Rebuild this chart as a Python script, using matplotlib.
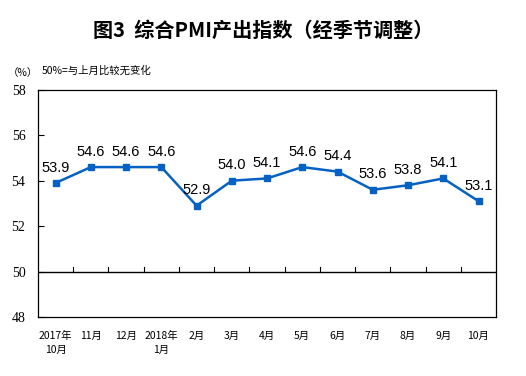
import numpy as np
import matplotlib.pyplot as plt

plt.rcParams['font.family'] = ['Noto Sans CJK SC', 'DejaVu Sans']

months = ['2017年\n10月', '11月', '12月', '2018年\n1月', '2月', '3月', '4月',
          '5月', '6月', '7月', '8月', '9月', '10月']
pmi = [53.9, 54.6, 54.6, 54.6, 52.9, 54.0, 54.1, 54.6, 54.4, 53.6, 53.8, 54.1, 53.1]
yticks = [48, 50, 52, 54, 56, 58]

fig = plt.figure(figsize=(5.26, 3.76), dpi=100)
ax = fig.add_axes([0.0722, 0.157, 0.871, 0.604])

x = np.arange(len(months))
ax.plot(x, pmi, color='#0561c4', lw=1.8, marker='s', ms=4, zorder=3)
for xi, v in zip(x, pmi):
    ax.annotate(f'{v:.1f}', (xi, v), xytext=(0, 6), textcoords='offset points',
                ha='center', va='bottom', fontsize=10.5, family='Liberation Sans')

ax.set_xlim(-0.5, len(months) - 0.5)
ax.set_ylim(48, 58)
ax.axhline(50, color='black', lw=1)
for b in np.arange(0.5, len(months) - 1, 1):
    ax.plot([b, b], [50, 50.2], color='black', lw=0.8)

ax.set_yticks(yticks)
ax.set_yticklabels([str(t) for t in yticks], family='Liberation Serif', fontsize=10)
ax.tick_params(axis='y', direction='in', length=4, width=0.8, pad=9)
ax.set_xticks([])
for xi, lab in zip(x, months):
    ax.text(xi, 47.4, lab, ha='center', va='top', fontsize=7.5, linespacing=1.5)

for s in ax.spines.values():
    s.set_linewidth(0.9)

fig.text(0.5, 0.92, '图3  综合PMI产出指数（经季节调整）', ha='center', va='center',
         fontsize=14.5, fontweight='bold')
fig.text(0.015, 0.805, '（%）', ha='left', va='center', fontsize=7.5)
fig.text(0.08, 0.812, '50%=与上月比较无变化', ha='left', va='center', fontsize=7.5)

fig.savefig('out.png', dpi=100)
